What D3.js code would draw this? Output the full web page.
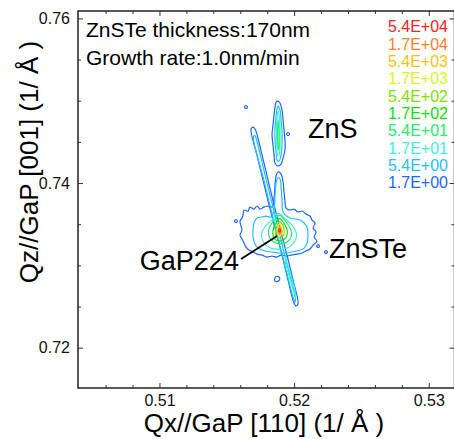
<!DOCTYPE html>
<html>
<head>
<meta charset="UTF-8">
<title>ZnSTe RSM</title>
<script src="https://cdn.jsdelivr.net/npm/d3@7"></script>
<style>
  body { margin: 0; background: #fff; }
  svg { display: block; font-family: "Liberation Sans", Arial, sans-serif; }
</style>
</head>
<body>
<script>
// contour levels, low -> high
const levelLabels = ['1.7E+00', '5.4E+00', '1.7E+01', '5.4E+01', '1.7E+02',
                     '5.4E+02', '1.7E+03', '5.4E+03', '1.7E+04', '5.4E+04'];
const xTicks = [0.51, 0.52, 0.53];
const xMinor = [0.506, 0.508, 0.512, 0.514, 0.516, 0.518, 0.522, 0.524, 0.526, 0.528];
const yTicks = [0.72, 0.74, 0.76];
const yMinor = [0.725, 0.73, 0.735, 0.745, 0.75, 0.755];
const infoLines = ['ZnSTe thickness:170nm', 'Growth rate:1.0nm/min'];

const streak0 = [[0.51695,0.74680],[0.51710,0.74656],[0.51762,0.74340],[0.51806,0.74036],[0.51851,0.73733],[0.51947,0.73125],[0.51992,0.72821],[0.52029,0.72530],[0.52014,0.72506],[0.51999,0.72542],[0.51955,0.72821],[0.51910,0.73125],[0.51814,0.73733],[0.51769,0.74036],[0.51724,0.74340],[0.51680,0.74656]];
const streak1 = [[0.51707,0.74583],[0.51717,0.74547],[0.51793,0.74036],[0.51940,0.73064],[0.52010,0.72591],[0.52005,0.72554],[0.51996,0.72591],[0.51921,0.73064],[0.51775,0.74036],[0.51698,0.74547]];
const streak2 = [[0.51936,0.73113],[0.51942,0.73064],[0.52013,0.72639],[0.52008,0.72603],[0.52004,0.72639],[0.51932,0.73064]];

const zns0 = [[0.51880,0.74996],[0.51895,0.74972],[0.51910,0.74887],[0.51918,0.74765],[0.51925,0.74644],[0.51932,0.74522],[0.51932,0.74401],[0.51918,0.74304],[0.51903,0.74231],[0.51880,0.74207],[0.51858,0.74243],[0.51851,0.74340],[0.51843,0.74462],[0.51836,0.74583],[0.51843,0.74705],[0.51851,0.74826],[0.51858,0.74923],[0.51866,0.74984]];
const zns1 = [[0.51880,0.74936],[0.51895,0.74887],[0.51903,0.74765],[0.51910,0.74620],[0.51910,0.74462],[0.51903,0.74340],[0.51888,0.74267],[0.51873,0.74279],[0.51866,0.74377],[0.51858,0.74522],[0.51858,0.74668],[0.51866,0.74814],[0.51873,0.74899]];
const zns2 = [[0.51880,0.74875],[0.51892,0.74790],[0.51895,0.74644],[0.51895,0.74462],[0.51888,0.74340],[0.51877,0.74340],[0.51873,0.74462],[0.51869,0.74644],[0.51873,0.74790]];
const zns3 = [[0.51883,0.74765],[0.51888,0.74644],[0.51888,0.74462],[0.51884,0.74401],[0.51879,0.74462],[0.51877,0.74644]];

const dotA = [[0.51643,0.74942],[0.51654,0.74923],[0.51643,0.74905],[0.51632,0.74923]];
const dotB = [[0.51955,0.74614],[0.51966,0.74595],[0.51955,0.74577],[0.51944,0.74595]];
const dotC = [[0.51568,0.73557],[0.51579,0.73538],[0.51568,0.73520],[0.51557,0.73538]];
const dotD = [[0.52178,0.73253],[0.52189,0.73235],[0.52178,0.73216],[0.52167,0.73235]];
const dotE = [[0.52237,0.73180],[0.52248,0.73162],[0.52237,0.73143],[0.52226,0.73162]];
const loopF = [[0.51855,0.72834],[0.51866,0.72864],[0.51888,0.72858],[0.51892,0.72821],[0.51873,0.72803],[0.51858,0.72809]];

const blob0 = [[0.51620,0.73611],[0.51628,0.73672],[0.51658,0.73660],[0.51672,0.73708],[0.51702,0.73684],[0.51724,0.73721],[0.51747,0.73684],[0.51776,0.73708],[0.51806,0.73721],[0.51836,0.73708],[0.51851,0.73818],[0.51858,0.73976],[0.51866,0.74085],[0.51880,0.74134],[0.51903,0.74109],[0.51918,0.74012],[0.51925,0.73891],[0.51932,0.73781],[0.51940,0.73696],[0.51970,0.73672],[0.51999,0.73684],[0.52029,0.73648],[0.52059,0.73660],[0.52088,0.73623],[0.52118,0.73599],[0.52133,0.73550],[0.52155,0.73514],[0.52141,0.73453],[0.52163,0.73405],[0.52148,0.73344],[0.52170,0.73295],[0.52141,0.73247],[0.52118,0.73198],[0.52088,0.73174],[0.52059,0.73150],[0.52022,0.73137],[0.51977,0.73125],[0.51940,0.73113],[0.51903,0.73125],[0.51873,0.73101],[0.51836,0.73113],[0.51799,0.73101],[0.51762,0.73125],[0.51724,0.73137],[0.51695,0.73162],[0.51665,0.73186],[0.51643,0.73222],[0.51628,0.73271],[0.51613,0.73320],[0.51598,0.73368],[0.51613,0.73429],[0.51606,0.73478],[0.51598,0.73538],[0.51613,0.73575]];
const blob1 = [[0.51702,0.73514],[0.51724,0.73575],[0.51762,0.73587],[0.51791,0.73599],[0.51828,0.73587],[0.51851,0.73672],[0.51858,0.73854],[0.51866,0.74000],[0.51880,0.74061],[0.51895,0.74049],[0.51903,0.73939],[0.51910,0.73793],[0.51918,0.73648],[0.51970,0.73575],[0.52014,0.73563],[0.52044,0.73550],[0.52074,0.73514],[0.52096,0.73465],[0.52103,0.73368],[0.52096,0.73271],[0.52074,0.73210],[0.52044,0.73186],[0.51984,0.73162],[0.51932,0.73150],[0.51895,0.73150],[0.51836,0.73162],[0.51784,0.73174],[0.51732,0.73210],[0.51710,0.73259],[0.51695,0.73344],[0.51695,0.73429]];
const peak2 = [[0.51883,0.73632],[0.51918,0.73587],[0.51945,0.73550],[0.51994,0.73469],[0.52019,0.73368],[0.51994,0.73267],[0.51945,0.73207],[0.51883,0.73194],[0.51821,0.73214],[0.51771,0.73287],[0.51759,0.73389],[0.51784,0.73469],[0.51834,0.73550],[0.51858,0.73599]];
const peak3 = [[0.51888,0.73611],[0.51925,0.73563],[0.51957,0.73490],[0.51982,0.73389],[0.51964,0.73307],[0.51920,0.73267],[0.51871,0.73267],[0.51821,0.73328],[0.51808,0.73408],[0.51834,0.73510],[0.51866,0.73571]];
const peak4 = [[0.51888,0.73571],[0.51932,0.73490],[0.51950,0.73408],[0.51938,0.73335],[0.51901,0.73299],[0.51858,0.73316],[0.51841,0.73389],[0.51851,0.73469],[0.51871,0.73530]];
const peak5 = [[0.51890,0.73530],[0.51920,0.73469],[0.51925,0.73389],[0.51908,0.73340],[0.51875,0.73340],[0.51860,0.73396],[0.51871,0.73469]];
const peak6 = [[0.51890,0.73502],[0.51910,0.73450],[0.51910,0.73389],[0.51890,0.73360],[0.51875,0.73389],[0.51875,0.73450]];
const peak7 = [[0.51893,0.73478],[0.51905,0.73437],[0.51905,0.73389],[0.51890,0.73372],[0.51880,0.73396],[0.51880,0.73437]];
const peak8 = [[0.51893,0.73462],[0.51901,0.73429],[0.51901,0.73396],[0.51890,0.73389],[0.51886,0.73408],[0.51886,0.73437]];
const peak9 = [[0.51893,0.73439],[0.51899,0.73423],[0.51893,0.73407],[0.51887,0.73423]];

const contours = [
  {level: 0, pts: streak0}, {level: 0, pts: zns0}, {level: 0, pts: blob0},
  {level: 0, pts: dotA}, {level: 0, pts: dotB}, {level: 0, pts: dotC},
  {level: 0, pts: dotD}, {level: 0, pts: dotE}, {level: 0, pts: loopF},
  {level: 1, pts: streak1}, {level: 1, pts: zns1}, {level: 1, pts: blob1},
  {level: 2, pts: streak2}, {level: 2, pts: zns2}, {level: 2, pts: peak2},
  {level: 3, pts: zns3}, {level: 3, pts: peak3},
  {level: 4, pts: peak4}, {level: 5, pts: peak5}, {level: 6, pts: peak6},
  {level: 7, pts: peak7}, {level: 8, pts: peak8}, {level: 9, pts: peak9}
];

const width = 454, height = 439;
const box = {left: 78, right: 454.5, top: 11, bottom: 388};

const x = d3.scaleLinear().domain([0.50395, 0.53191]).range([box.left, box.right]);
const y = d3.scaleLinear().domain([0.7151, 0.7609]).range([box.bottom, box.top]);

const color = d3.scaleOrdinal()
  .domain(d3.range(levelLabels.length))
  .range(['#1a66ff', '#1ec0ff', '#3ef0d8', '#22ee6e', '#10dd10',
          '#7fe000', '#d6f52a', '#ffbf10', '#ff7f20', '#ff2020']);

const svg = d3.select('body').append('svg').attr('width', width).attr('height', height);

svg.append('defs').append('clipPath').attr('id', 'plot')
  .append('rect').attr('x', box.left).attr('y', box.top)
  .attr('width', box.right - box.left).attr('height', box.bottom - box.top);

// contours
const line = d3.line()
  .x(d => x(d[0]))
  .y(d => y(d[1]))
  .curve(d3.curveCatmullRomClosed.alpha(0.5));

svg.append('g').attr('clip-path', 'url(#plot)')
  .selectAll('path')
  .data(contours.slice().sort((a, b) => a.level - b.level))
  .join('path')
  .attr('d', d => line(d.pts))
  .attr('fill', 'none')
  .attr('stroke', d => color(d.level))
  .attr('stroke-width', 1.2)
  .attr('stroke-linejoin', 'round');

// axes: ticks inward on all four sides
const tickStyle = g => g
  .call(g => g.select('.domain').remove())
  .call(g => g.selectAll('line').attr('stroke', '#333'))
  .call(g => g.selectAll('text').attr('fill', '#111').style('font-size', '16px')
    .style('font-family', '"Liberation Sans", Arial, sans-serif'));

svg.append('g').attr('transform', `translate(0,${box.bottom})`)
  .call(d3.axisBottom(x).tickValues(xTicks).tickSize(-5).tickPadding(7).tickFormat(d3.format('.2f')))
  .call(tickStyle);
svg.append('g').attr('transform', `translate(0,${box.bottom})`)
  .call(d3.axisBottom(x).tickValues(xMinor).tickSize(-3).tickFormat(''))
  .call(tickStyle);
svg.append('g').attr('transform', `translate(0,${box.top})`)
  .call(d3.axisTop(x).tickValues(xTicks).tickSize(-5).tickFormat(''))
  .call(tickStyle);
svg.append('g').attr('transform', `translate(0,${box.top})`)
  .call(d3.axisTop(x).tickValues(xMinor).tickSize(-3).tickFormat(''))
  .call(tickStyle);

svg.append('g').attr('transform', `translate(${box.left},0)`)
  .call(d3.axisLeft(y).tickValues(yTicks).tickSize(-5).tickPadding(8).tickFormat(d3.format('.2f')))
  .call(tickStyle);
svg.append('g').attr('transform', `translate(${box.left},0)`)
  .call(d3.axisLeft(y).tickValues(yMinor).tickSize(-3).tickFormat(''))
  .call(tickStyle);
svg.append('g').attr('transform', `translate(${box.right},0)`)
  .call(d3.axisRight(y).tickValues(yTicks).tickSize(-5).tickFormat(''))
  .call(tickStyle);
svg.append('g').attr('transform', `translate(${box.right},0)`)
  .call(d3.axisRight(y).tickValues(yMinor).tickSize(-3).tickFormat(''))
  .call(tickStyle);

// frame
svg.append('rect')
  .attr('x', box.left).attr('y', box.top)
  .attr('width', box.right - box.left).attr('height', box.bottom - box.top)
  .attr('fill', 'none').attr('stroke', '#222').attr('stroke-width', 1.5);

// axis titles
svg.append('text')
  .attr('x', 264).attr('y', 432)
  .attr('text-anchor', 'middle')
  .style('font-size', '26px')
  .text('Qx//GaP [110] (1/ Å )');
svg.append('text')
  .attr('transform', 'translate(38,162) rotate(-90)')
  .attr('text-anchor', 'middle')
  .style('font-size', '26px')
  .text('Qz//GaP [001] (1/ Å )');

// sample info
svg.append('g').selectAll('text')
  .data(infoLines)
  .join('text')
  .attr('x', 86)
  .attr('y', (d, i) => 37 + i * 28)
  .style('font-size', '21px')
  .text(d => d);

// legend, highest level on top
const legendRows = d3.range(levelLabels.length).reverse();
svg.append('g').selectAll('text')
  .data(legendRows)
  .join('text')
  .attr('x', 448)
  .attr('y', (d, i) => 32.3 + i * 17.33)
  .attr('text-anchor', 'end')
  .attr('fill', d => color(d))
  .style('font-size', '16px')
  .text(d => levelLabels[d]);

// peak labels
svg.append('text')
  .attr('x', x(0.52103)).attr('y', y(0.74547))
  .style('font-size', '27px')
  .text('ZnS');
svg.append('text')
  .attr('x', x(0.52259)).attr('y', y(0.73089))
  .style('font-size', '27px')
  .text('ZnSTe');
svg.append('text')
  .attr('x', x(0.51590)).attr('y', y(0.72943))
  .attr('text-anchor', 'end')
  .style('font-size', '27px')
  .text('GaP224');
svg.append('line')
  .attr('x1', x(0.51606)).attr('y1', y(0.73077))
  .attr('x2', x(0.51873)).attr('y2', y(0.73356))
  .attr('stroke', '#000').attr('stroke-width', 1.8);
</script>
</body>
</html>
